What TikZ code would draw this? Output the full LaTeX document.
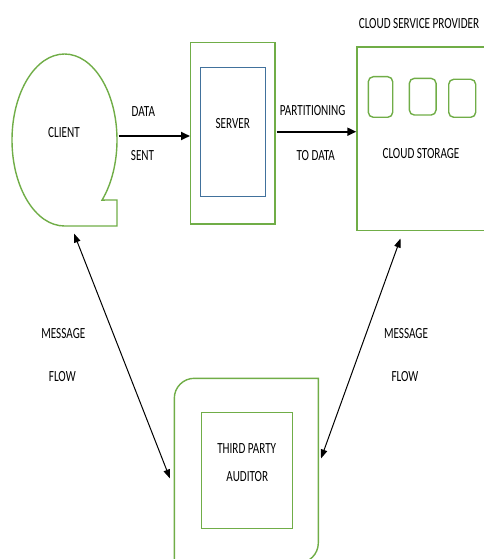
\documentclass[tikz,border=0pt]{standalone}
\usepackage{fontspec}
\setmainfont[FakeStretch=0.72]{Carlito}
\usetikzlibrary{arrows.meta}
\definecolor{grn}{HTML}{70AD47}
\definecolor{blu}{HTML}{41719C}
\tikzset{
  gbox/.style={draw=grn, line width=1.4pt, rectangle, inner sep=0pt},
  bbox/.style={draw=blu, line width=1.2pt, rectangle, inner sep=0pt},
  gsmall/.style={draw=grn, line width=1.4pt, rectangle, rounded corners=5pt, inner sep=0pt},
  lbl/.style={inner sep=0pt, font=\fontsize{15.5}{19}\selectfont},
  harrow/.style={line width=1.8pt, -{Triangle[length=9pt, width=8pt]}},
  darrow/.style={line width=1pt, {Triangle[length=9pt, width=6.5pt]}-{Triangle[length=9pt, width=6.5pt]}},
}
\begin{document}
\begin{tikzpicture}[x=1pt, y=-1pt]
\useasboundingbox (0,0) rectangle (484,559);
\begin{scope}
\clip (0,0) rectangle (484,559);
% client shape
\draw[draw=grn, line width=1.4pt] (64.5,226) arc[start angle=270, end angle=-44.3, x radius=52.5pt, y radius=86pt] -- (117,200) -- (117,226) -- cycle;
\node[lbl] (client) at (64,132.7) {CLIENT};
% server
\node[gbox, minimum width=84.3pt, minimum height=181.3pt] (server) at (232.85,133.35) {};
\node[bbox, minimum width=65pt, minimum height=129pt] (serverin) at (233.2,132.2) {};
\node[lbl] (serverlbl) at (232.7,124) {SERVER};
% cloud
\node[gbox, minimum width=130pt, minimum height=183.3pt] (cloud) at (422,138.7) {};
\node[gsmall, minimum width=24.4pt, minimum height=40.6pt] (c1) at (380.5,97) {};
\node[gsmall, minimum width=26.7pt, minimum height=36.7pt] (c2) at (422.7,96.7) {};
\node[gsmall, minimum width=27pt, minimum height=38pt] (c3) at (462.2,98.3) {};
\node[lbl] (cloudlbl) at (421,153.3) {CLOUD STORAGE};
\node[lbl] (csp) at (419,24) {CLOUD SERVICE PROVIDER};
% auditor
\draw[draw=grn, line width=1.4pt] (174.3,563) -- (174.3,398.3) arc[start angle=180, end angle=90, radius=20pt] -- (318.3,378.3) -- (318.3,543) arc[start angle=0, end angle=-90, radius=20pt] -- cycle;
\node[gbox, minimum width=91pt, minimum height=116pt] (auditor) at (247.2,470.3) {};
\node[lbl] (aud1) at (246.7,448.3) {THIRD PARTY};
\node[lbl] (aud2) at (247.3,476.7) {AUDITOR};
\end{scope}
% connectors
\coordinate (clientR) at (118.5,136);
\draw[harrow] (clientR) -- (clientR -| server.west);
\node[lbl] (data) at (143.3,111.8) {DATA};
\node[lbl] (sent) at (142.5,155.8) {SENT};
\coordinate (serverR) at (276.5,131.7);
\draw[harrow] (serverR) -- (serverR -| cloud.west);
\node[lbl] (part) at (312.7,111) {PARTITIONING};
\node[lbl] (todata) at (315.7,156) {TO DATA};
\coordinate (clientB) at (74,233.5);
\coordinate (audL) at (170,478.5);
\draw[darrow] (clientB) -- (audL);
\coordinate (cloudB) at (400.5,238.5);
\coordinate (audR) at (321,458.5);
\draw[darrow] (cloudB) -- (audR);
\node[lbl] (msg1) at (63.3,333.3) {MESSAGE};
\node[lbl] (flow1) at (62.3,376.7) {FLOW};
\node[lbl] (msg2) at (406,333.3) {MESSAGE};
\node[lbl] (flow2) at (405,376.7) {FLOW};
\end{tikzpicture}
\end{document}
